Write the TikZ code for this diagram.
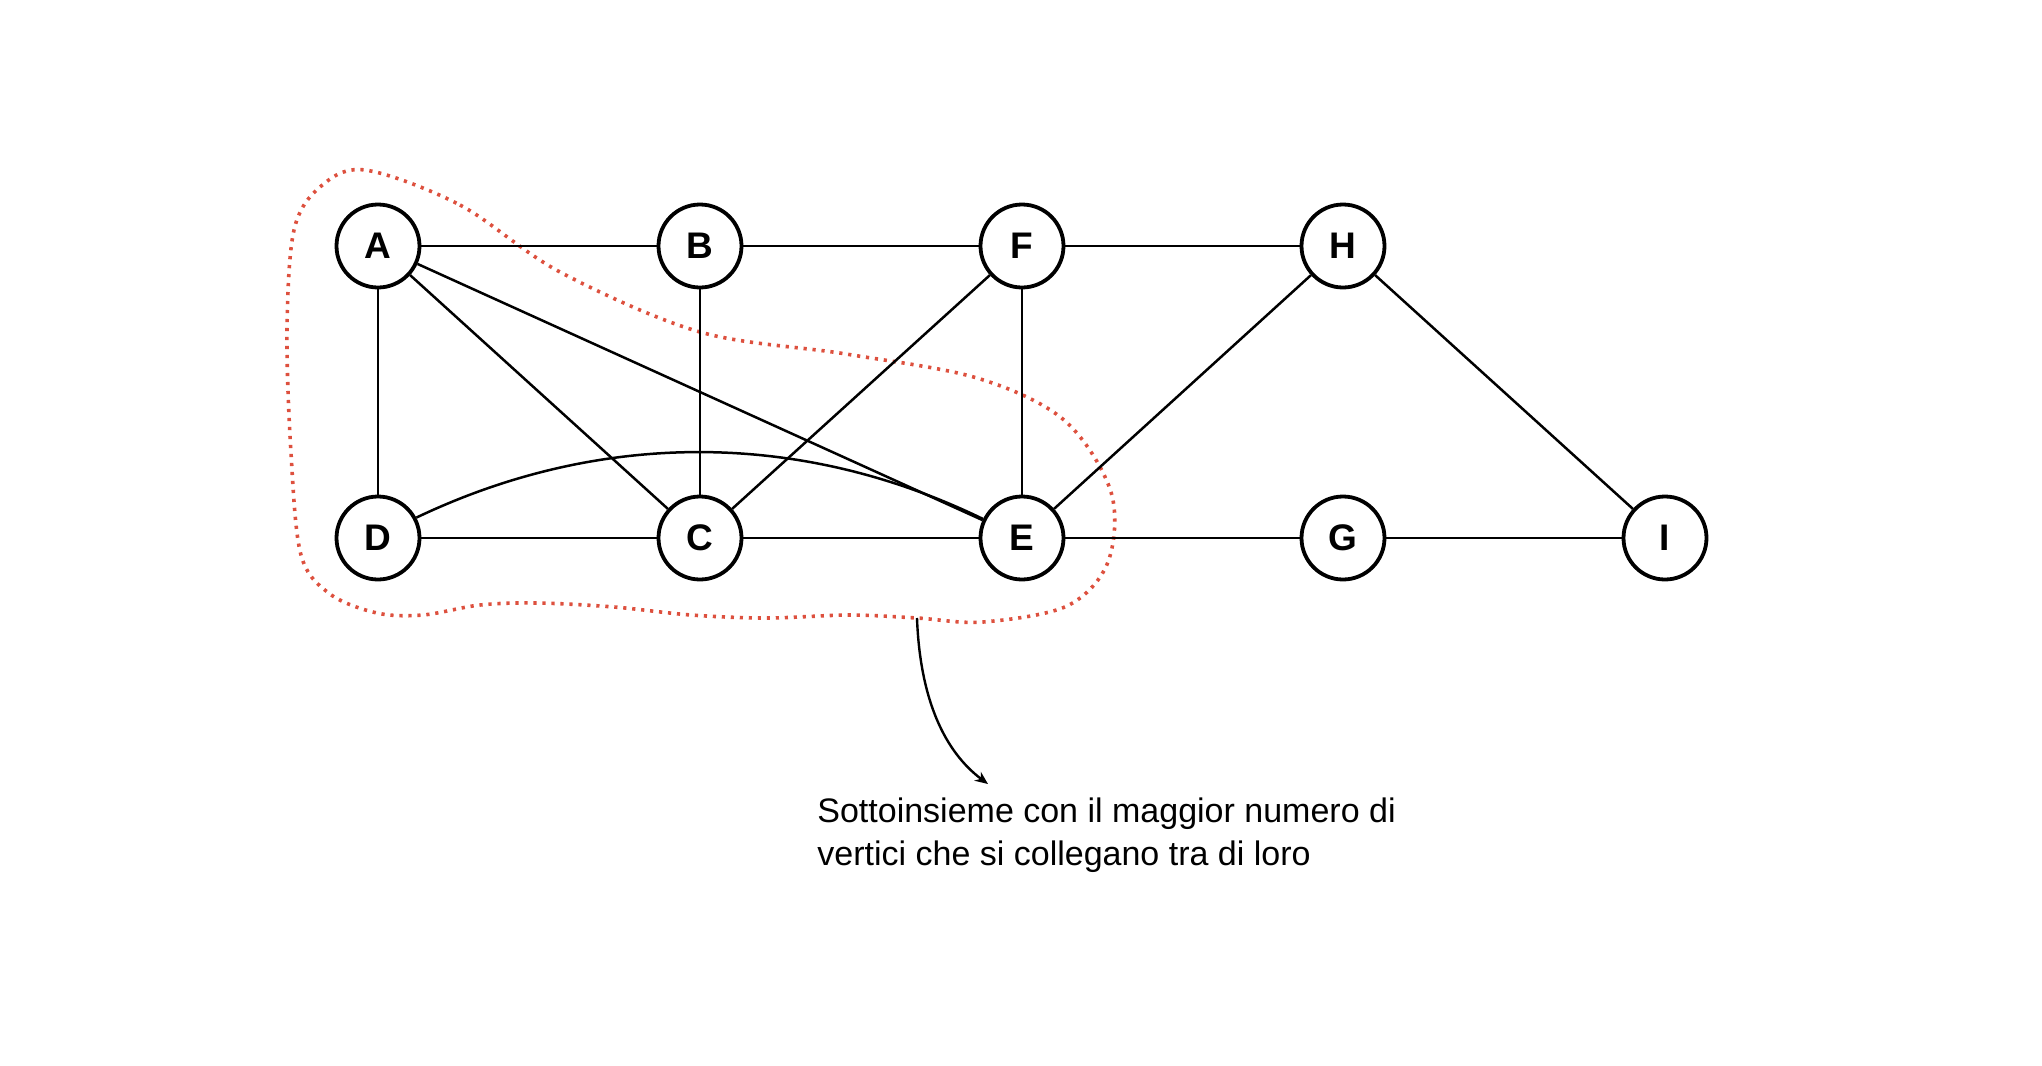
\documentclass[tikz,border=0pt]{standalone}
\usepackage{fontspec}
\setmainfont{Liberation Sans}
\usetikzlibrary{arrows.meta}
\definecolor{blobred}{RGB}{221,80,62}
\tikzset{
  vertex/.style={circle,draw=black,line width=1.9pt,minimum size=41.5pt,inner sep=0pt,fill=white,font=\fontsize{18.5}{20}\selectfont\bfseries},
  edge/.style={line width=1.25pt,draw=black},
  blob/.style={draw=blobred,line width=1.8pt,dash pattern=on 1.6pt off 2.9pt},
}
\begin{document}
\begin{tikzpicture}[x=0.5pt,y=-0.5pt]
\useasboundingbox (0,0) rectangle (2042,1066);
% subset outline
\draw[blob] plot[smooth cycle,tension=0.55] coordinates {
(365,170) (460,205) (560,272) (700,332) (846,354) (977,378) (1064,420)
(1111,492) (1108,562) (1067,606) (983,622) (917,618) (850,615) (767,618)
(691,615) (614,607) (538,603) (480,605) (423,615) (377,613) (330,594)
(301,555) (291,453) (287,330) (294,230) (320,187)};
\coordinate (s) at (917,618);
% vertices
\node[vertex] (A) at (378,246) {A};
\node[vertex] (B) at (700,246) {B};
\node[vertex] (F) at (1022,246) {F};
\node[vertex] (H) at (1343,246) {H};
\node[vertex] (D) at (378,538) {D};
\node[vertex] (C) at (700,538) {C};
\node[vertex] (E) at (1022,538) {E};
\node[vertex] (G) at (1343,538) {G};
\node[vertex] (I) at (1665,538) {I};
% edges
\draw[edge] (A) -- (B);
\draw[edge] (B) -- (F);
\draw[edge] (F) -- (H);
\draw[edge] (A) -- (D);
\draw[edge] (A) -- (C);
\draw[edge] (A) -- (E);
\draw[edge] (B) -- (C);
\draw[edge] (F) -- (C);
\draw[edge] (F) -- (E);
\draw[edge] (H) -- (E);
\draw[edge] (H) -- (I);
\draw[edge] (D) -- (C);
\draw[edge] (C) -- (E);
\draw[edge] (E) -- (G);
\draw[edge] (G) -- (I);
\draw[edge] (D.28) .. controls (600,430) and (800,430) .. (E.154);
% annotation
\node[anchor=west,align=left,inner sep=0pt,font=\fontsize{17}{21.5}\selectfont] (T) at (817,835)
  {Sottoinsieme con il maggior numero di\\vertici che si collegano tra di loro};
\coordinate (t) at (988,784);
\draw[line width=1.2pt,-{Stealth[length=6.5pt,width=5.5pt]}] (s) .. controls (920,700) and (945,752) .. (t);
\end{tikzpicture}
\end{document}
